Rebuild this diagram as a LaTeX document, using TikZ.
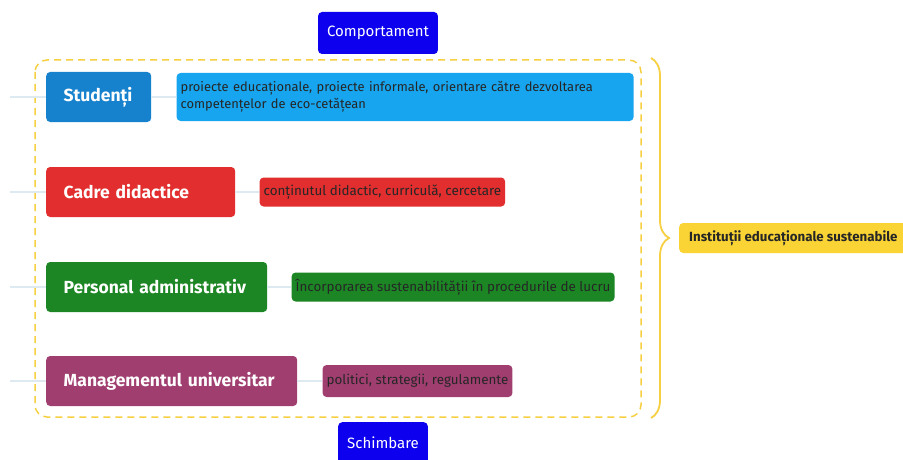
\documentclass[tikz,border=0pt]{standalone}
\usepackage{fontspec}
\setmainfont{Fira Sans}
\usetikzlibrary{positioning,decorations.pathreplacing}

\definecolor{headblue}{RGB}{12,0,238}
\definecolor{studblue}{RGB}{22,130,205}
\definecolor{studlight}{RGB}{22,165,238}
\definecolor{cadred}{RGB}{226,46,46}
\definecolor{persgreen}{RGB}{28,134,36}
\definecolor{mgmtpurple}{RGB}{160,62,112}
\definecolor{instyellow}{RGB}{250,212,52}
\definecolor{frameyellow}{RGB}{246,208,66}
\definecolor{linkgray}{RGB}{222,234,242}

\begin{document}
\begin{tikzpicture}[x=1pt, y=-1pt,
        main_node/.style={rectangle, rounded corners=4pt, text=white, font=\bfseries\fontsize{17.5}{20}\selectfont, minimum height=50pt, inner xsep=17.5pt, anchor=west, align=left},
        detail_node/.style={rectangle, rounded corners=4pt, text=black!85, font=\fontsize{13.4}{17}\selectfont, minimum height=29pt, inner xsep=4pt},
        head_node/.style={rectangle, rounded corners=4pt, fill=headblue, text=white, font=\fontsize{15}{18}\selectfont, minimum height=42pt, inner xsep=9pt},
        link/.style={color=linkgray, line width=1.5pt}
        ]
            \useasboundingbox[fill=white] (0,0) rectangle (903,460);

            % frame and brace
            \draw[frameyellow, line width=1.5pt, dash pattern=on 7pt off 5pt, rounded corners=12pt] (35,60) rectangle (641,417);
            \coordinate (brace_top) at (651,58);
            \coordinate (brace_bot) at (651,418);
            \draw[frameyellow, line width=1.8pt, decorate, decoration={brace, amplitude=18pt}] (brace_top) -- (brace_bot);

            % heads
            \node[head_node]    (comport)   at (378,33)     {Comportament};
            \node[head_node, anchor=north]    (schimb)   at (383,422)     {Schimbare};

            % actors
            \node[main_node, fill=studblue, text width=70pt]     (studenti)  at (46,97)   {Studenți};
            \node[main_node, fill=cadred, text width=154pt]      (cadre)     at (46,192)  {Cadre didactice};
            \node[main_node, fill=persgreen, text width=186pt]   (personal)  at (46,287)  {Personal administrativ};
            \node[main_node, fill=mgmtpurple, text width=216pt]  (mgmt)      at (46,381)  {Managementul universitar};

            % details
            \node[detail_node, fill=studlight, font=\fontsize{12.9}{17}\selectfont, text width=449pt, align=left, minimum height=48pt]  (studenti_det)  [right = 25pt of studenti]
                {proiecte educaționale, proiecte informale, orientare către dezvoltarea\\competențelor de eco-cetățean};
            \node[detail_node, fill=cadred]      (cadre_det)     [right = 24pt of cadre]     {conținutul didactic, curriculă, cercetare};
            \node[detail_node, fill=persgreen]   (personal_det)  [right = 24pt of personal]  {Încorporarea sustenabilității în procedurile de lucru};
            \node[detail_node, fill=mgmtpurple, minimum height=32pt]  (mgmt_det)  [right = 25pt of mgmt]  {politici, strategii, regulamente};

            % result
            \node[rectangle, rounded corners=4pt, fill=instyellow, text=black!85, font=\bfseries\fontsize{13.3}{16}\selectfont, minimum height=30pt, inner xsep=10pt, anchor=west]
                (instit) at (679,238) {Instituții educaționale sustenabile};

            % Lines
            \coordinate (in_1) at (10,97);
            \coordinate (in_2) at (10,192);
            \coordinate (in_3) at (10,287);
            \coordinate (in_4) at (10,381);
            \draw[link] (in_1) -- (studenti.west);
            \draw[link] (in_2) -- (cadre.west);
            \draw[link] (in_3) -- (personal.west);
            \draw[link] (in_4) -- (mgmt.west);
            \draw[link] (studenti.east) -- (studenti_det.west);
            \draw[link] (cadre.east) -- (cadre_det.west);
            \draw[link] (personal.east) -- (personal_det.west);
            \draw[link] (mgmt.east) -- (mgmt_det.west);
        \end{tikzpicture}
\end{document}
